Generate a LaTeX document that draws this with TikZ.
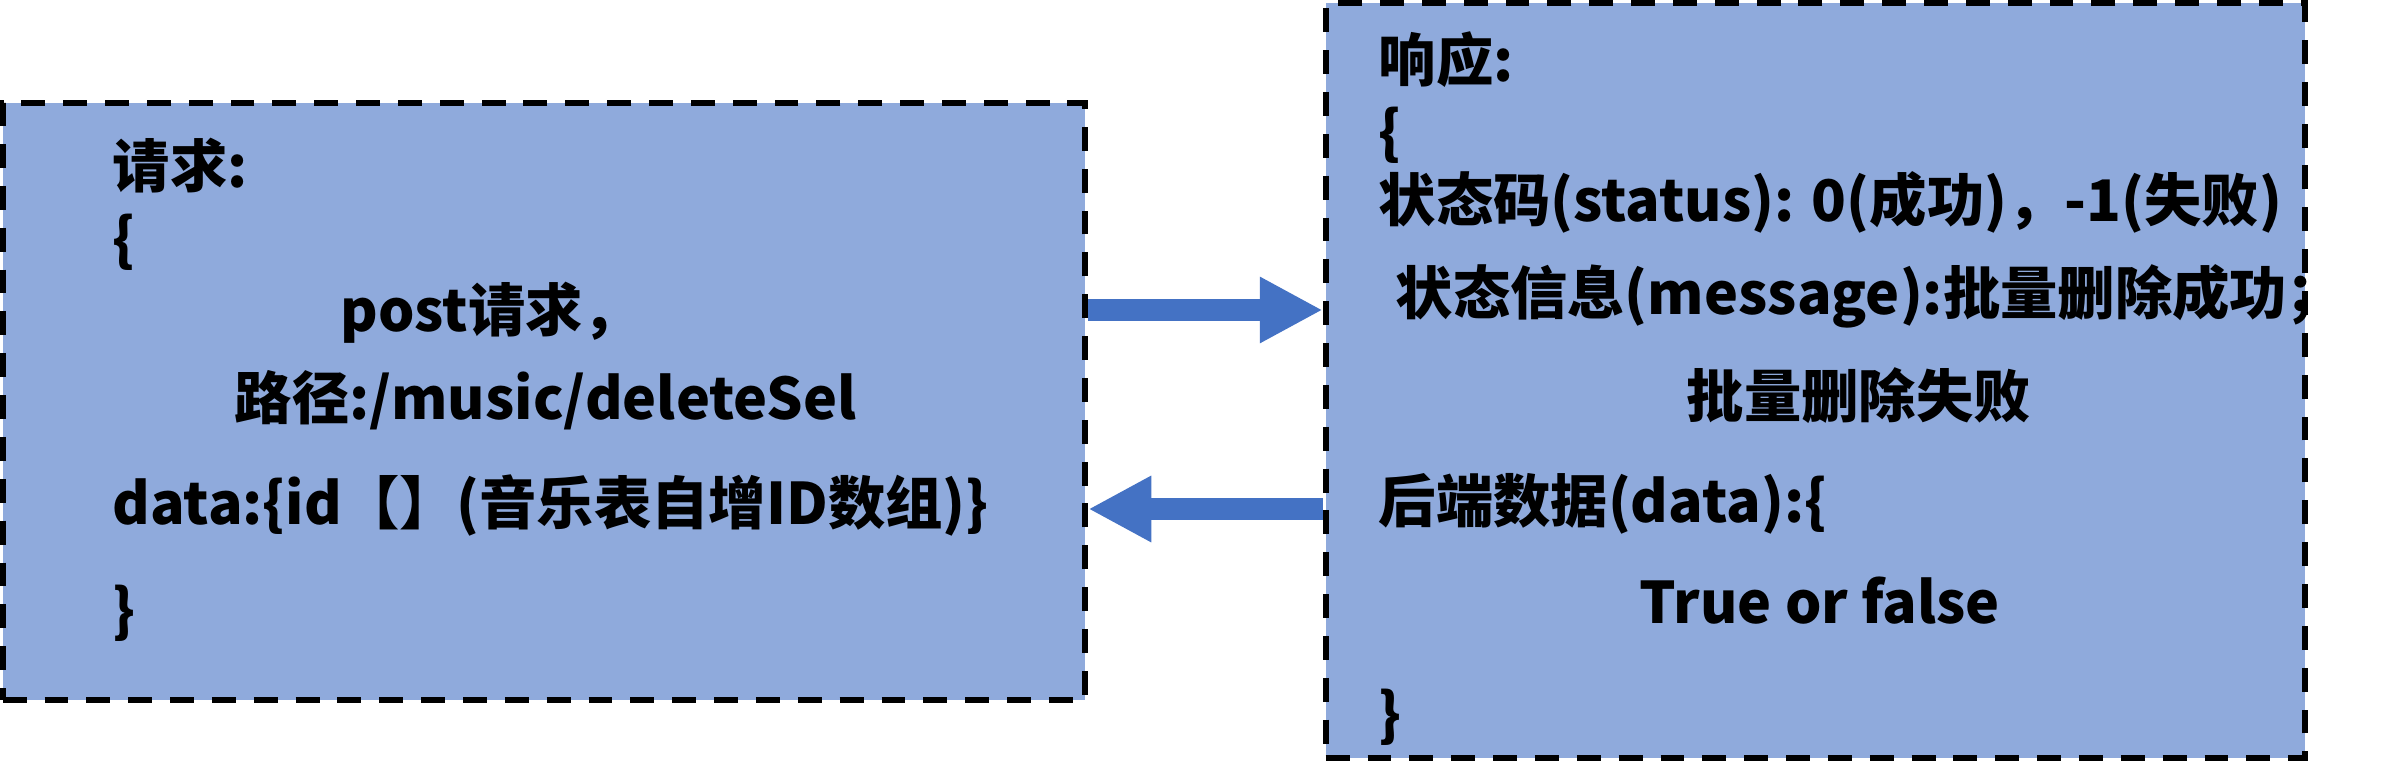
\documentclass[tikz,border=0pt]{standalone}
\usepackage{fontspec}
\setmainfont{Noto Sans CJK SC}
\usepackage{xcolor}
\usetikzlibrary{arrows.meta}
\definecolor{boxfill}{HTML}{8FAADC}
\definecolor{arrblue}{HTML}{4472C4}

\begin{document}
\begin{tikzpicture}[
  x=0.01cm, y=-0.01cm,
  panel/.style={rectangle, draw=black, fill=boxfill, line width=1.7pt, dash pattern=on 6.8pt off 5.1pt},
  line/.style={anchor=west, inner sep=0pt, font=\fontsize{16.3}{19}\selectfont\bfseries, text height=14.3pt, text depth=2pt},
  flow/.style={-{Triangle[length=17.9pt, width=17.6pt]}, line width=6pt, draw=arrblue}
]
\useasboundingbox (0,0) rectangle (2387,783);
\node[panel, minimum width=10.82cm, minimum height=5.97cm] (req) at (544,401.5) {};
\node[panel, minimum width=9.79cm, minimum height=7.55cm] (resp) at (1815.5,380.5) {};

\node[line] (reqtitle) at (112,166) {请求:};
\node[line] (reqopen) at (112,239) {\{};
\node[line] (post) at (340,310) {post请求，};
\node[line] (path) at (234,398) {路径:/music/deleteSel};
\node[line] (reqdata) at (112,503) {data:\{id【】(音乐表自增ID数组)\}};
\node[line] (reqclose) at (112,610) {\}};

\node[line] (resptitle) at (1378,60) {响应:};
\node[line] (respopen) at (1378,132) {\{};
\node[line] (status) at (1378,200) {状态码(status): 0(成功)，-1(失败)};
\node[line] (msg) at (1395,293) {状态信息(message):批量删除成功；};
\node[line] (fail) at (1686,396) {批量删除失败};
\node[line] (backend) at (1378,501) {后端数据(data):\{};
\node[line] (result) at (1639,602) {True or false};
\node[line] (respclose) at (1378,714) {\}};

\coordinate (back) at (1326,509);
\draw[flow] (req.east |- post) -- (resp.west |- post);
\draw[flow] (resp.west |- back) -- (req.east |- back);
\end{tikzpicture}
\end{document}
